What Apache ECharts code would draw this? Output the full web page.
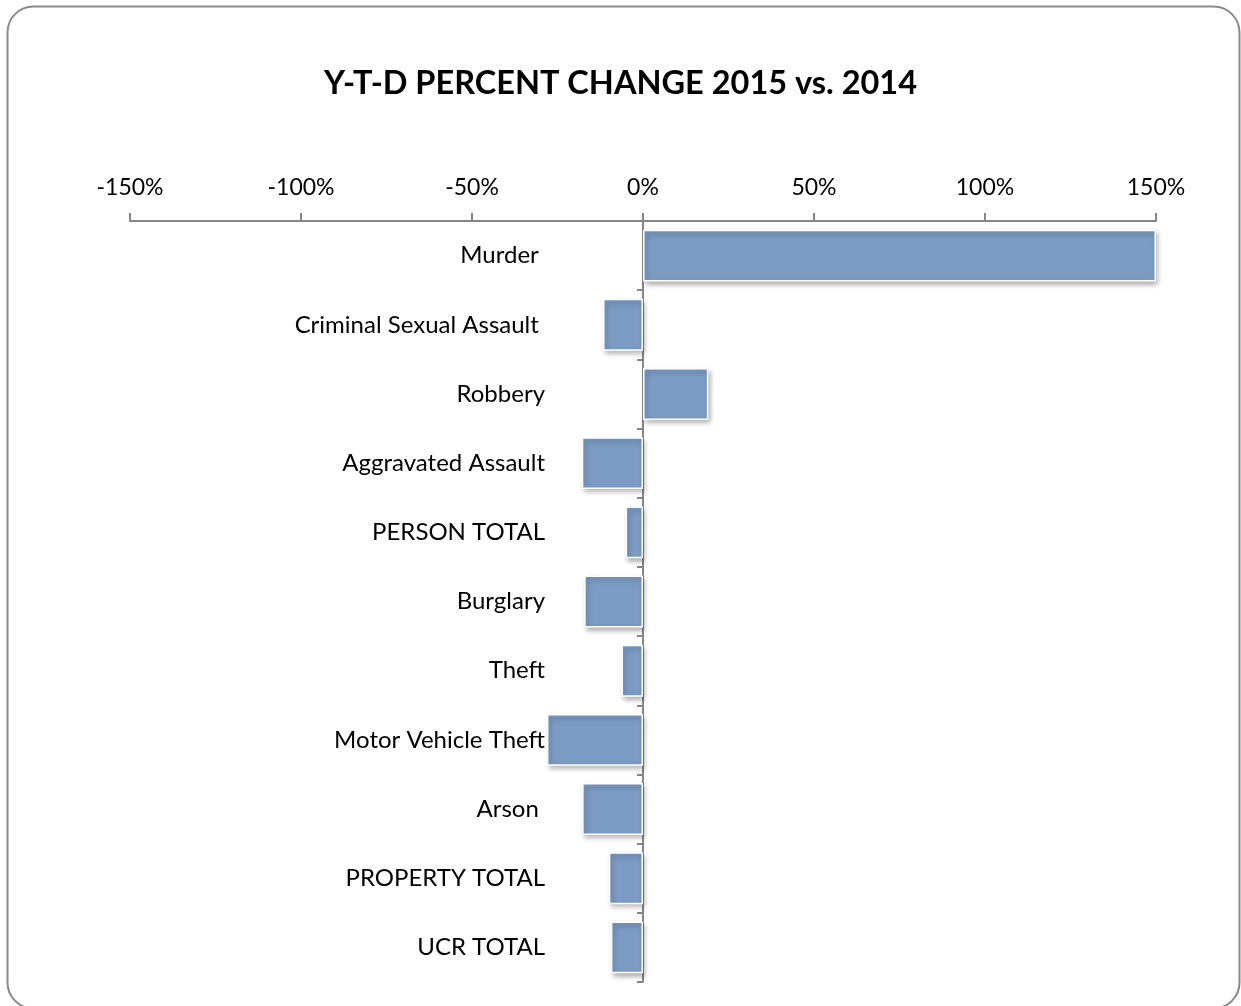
<!DOCTYPE html>
<html>
<head>
<meta charset="utf-8">
<script src="https://cdn.jsdelivr.net/npm/echarts@6/dist/echarts.min.js"></script>
<style>
  html, body { margin: 0; padding: 0; background: #fff; }
  #main { width: 1241px; height: 1006px; }
</style>
</head>
<body>
<div id="main"></div>
<script>
// categories (trailing spaces kept as in the source labels)
var categories = ['Murder ', 'Criminal Sexual Assault ', 'Robbery', 'Aggravated Assault', 'PERSON TOTAL',
  'Burglary', 'Theft', 'Motor Vehicle Theft', 'Arson ', 'PROPERTY TOTAL', 'UCR TOTAL'];
// percent change
var pctChange = [150, -11.7, 19.1, -17.9, -5.1, -17.2, -6.3, -28.1, -17.8, -10.0, -9.4];
var tickValues = [-150, -100, -50, 0, 50, 100, 150];

var myChart = echarts.init(document.getElementById('main'));
var axisGray = '#868686';
var font = 'Lato, "Open Sans", sans-serif';

myChart.setOption({
  animation: false,
  textStyle: { fontFamily: font },
  title: {
    text: 'Y-T-D PERCENT CHANGE 2015 vs. 2014',
    left: 'center',
    top: 62,
    textStyle: { fontFamily: font, fontWeight: 'bold', fontSize: 32.5, color: '#000' }
  },
  graphic: [{
    type: 'rect',
    shape: { x: 7.5, y: 6.5, width: 1232, height: 1002, r: 26 },
    style: { fill: 'none', stroke: '#8a8a8a', lineWidth: 2 },
    silent: true
  }],
  grid: { left: 130, right: 85, top: 221, bottom: 24, containLabel: false, outerBoundsMode: 'none' },
  xAxis: {
    type: 'value',
    position: 'top',
    min: -150,
    max: 150,
    interval: 50,
    splitLine: { show: false },
    axisLine: { show: true, lineStyle: { color: axisGray, width: 2 } },
    axisTick: { show: true, length: 8, lineStyle: { color: axisGray, width: 2 } },
    axisLabel: {
      margin: 22,
      fontSize: 23,
      color: '#000',
      formatter: function (v) { return tickValues.indexOf(v) >= 0 ? v + '%' : ''; }
    }
  },
  yAxis: {
    type: 'category',
    inverse: true,
    data: categories,
    axisLine: { onZero: true, lineStyle: { color: axisGray, width: 2 } },
    axisTick: { show: true, length: 6, lineStyle: { color: axisGray, width: 2 } },
    // labels stay at the grid edge, so pull them in next to the zero line
    axisLabel: { margin: -415, fontSize: 24, color: '#000', align: 'right' }
  },
  series: [{
    type: 'bar',
    data: pctChange,
    barCategoryGap: '25%',
    itemStyle: {
      color: '#7b9bc2',
      borderColor: '#ffffff',
      borderWidth: 1.5,
      shadowColor: 'rgba(0,0,0,0.3)',
      shadowBlur: 5,
      shadowOffsetX: 2,
      shadowOffsetY: 3
    }
  }]
});
</script>
</body>
</html>
